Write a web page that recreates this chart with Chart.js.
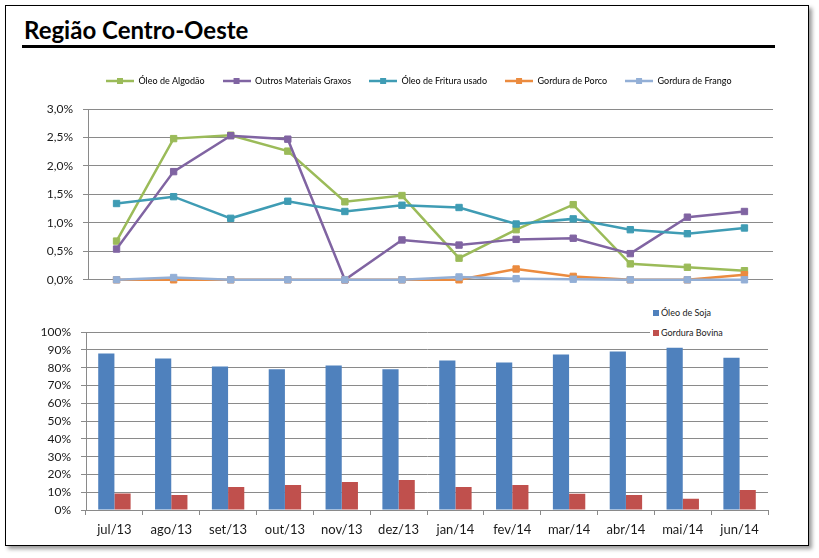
<!DOCTYPE html>
<html>
<head>
<meta charset="utf-8">
<script src="https://cdn.jsdelivr.net/npm/chart.js@4.4.0/dist/chart.umd.min.js"></script>
<style>
  body { margin: 0; background: #fff; font-family: Lato, sans-serif; }
  #frame { position: absolute; left: 5px; top: 5px; width: 802px; height: 539px; border: 1px solid #000; box-shadow: 3px 3px 4px #999; background: #fff; }
  #title { position: absolute; left: 24px; top: 15px; font: bold 24px Lato, sans-serif; color: #000; white-space: nowrap; }
  #rule { position: absolute; left: 22px; top: 45px; width: 753px; height: 3px; background: #000; }
  .box { position: absolute; }
  #barLegend { position: absolute; left: 650px; top: 303px; width: 120px; background: #fff; font: 9px Lato, sans-serif; color: #222; }
  #barLegend div { height: 20px; line-height: 20px; padding-left: 3px; }
  #barLegend span { display: inline-block; width: 6px; height: 6px; margin-right: 2px; vertical-align: 0; }
</style>
</head>
<body>
<div id="frame"></div>
<div id="title">Região Centro-Oeste</div>
<div id="rule"></div>

<div class="box" style="left:20px; top:58px;">
  <canvas id="lineChart" width="770" height="239"></canvas>
</div>
<div class="box" style="left:20px; top:315px;">
  <canvas id="barChart" width="770" height="230"></canvas>
</div>
<div id="barLegend">
  <div><span style="background:#4F81BD"></span>Óleo de Soja</div>
  <div><span style="background:#C0504D"></span>Gordura Bovina</div>
</div>

<script>
// meses
const months = ['jul/13', 'ago/13', 'set/13', 'out/13', 'nov/13', 'dez/13',
                'jan/14', 'fev/14', 'mar/14', 'abr/14', 'mai/14', 'jun/14'];

// participação (%) - gráfico de linhas
const algodao = [0.68, 2.48, 2.54, 2.26, 1.37, 1.48, 0.38, 0.88, 1.32, 0.28, 0.22, 0.16];
const outros  = [0.54, 1.90, 2.53, 2.47, 0.00, 0.70, 0.61, 0.71, 0.73, 0.46, 1.10, 1.20];
const fritura = [1.34, 1.46, 1.08, 1.38, 1.20, 1.31, 1.27, 0.98, 1.07, 0.88, 0.81, 0.91];
const porco   = [0, 0, 0, 0, 0, 0, 0, 0.19, 0.06, 0, 0, 0.09];
const frango  = [0, 0.04, 0, 0, 0, 0, 0.05, 0.02, 0.01, 0, 0, 0];
const lineTicks = ['0,0%', '0,5%', '1,0%', '1,5%', '2,0%', '2,5%', '3,0%'];

// participação (%) - gráfico de barras
const soja   = [88.0, 85.2, 80.7, 79.1, 81.3, 79.1, 84.1, 83.0, 87.4, 89.1, 91.3, 85.7];
const bovina = [9.3, 8.5, 13.0, 14.1, 15.7, 16.9, 13.0, 14.1, 9.1, 8.5, 6.3, 11.3];
const barTicks = ['0%', '10%', '20%', '30%', '40%', '50%', '60%', '70%', '80%', '90%', '100%'];

const gridGray = '#8a8a8a';
const tickColor = '#1a1a1a';

function legendIcon(color) {
    const c = document.createElement('canvas');
    c.width = 28;
    c.height = 8;
    const g = c.getContext('2d');
    g.strokeStyle = color;
    g.lineWidth = 2.5;
    g.beginPath();
    g.moveTo(0, 4);
    g.lineTo(28, 4);
    g.stroke();
    g.fillStyle = color;
    g.fillRect(11, 1, 6, 6);
    return c;
}

function lineSet(label, data, color, order) {
    return {
        label,
        data,
        borderColor: color,
        backgroundColor: color,
        borderWidth: 2.5,
        pointStyle: 'rect',
        pointRadius: 4.5,
        pointBorderWidth: 1,
        pointBackgroundColor: color,
        pointBorderColor: color,
        tension: 0,
        clip: false,
        order
    };
}

// espaço extra abaixo da legenda
const legendGap = {
    id: 'legendGap',
    beforeInit(chart) {
        const fit = chart.legend.fit;
        chart.legend.fit = function () {
            fit.bind(chart.legend)();
            this.height += 13.5;
        };
    }
};

new Chart(document.getElementById('lineChart').getContext('2d'), {
    type: 'line',
    data: {
        labels: months,
        datasets: [
            lineSet('Óleo de Algodão', algodao, '#9BBB59', 5),
            lineSet('Outros Materiais Graxos', outros, '#8064A2', 4),
            lineSet('Óleo de Fritura usado', fritura, '#3F9CB4', 3),
            lineSet('Gordura de Porco', porco, '#EB8B3F', 2),
            lineSet('Gordura de Frango', frango, '#93AFD6', 1)
        ]
    },
    options: {
        responsive: false,
        animation: false,
        layout: { padding: { top: 0.5, right: 17, bottom: 8, left: 0 } },
        plugins: {
            legend: {
                position: 'top',
                align: 'start',
                fullSize: false,
                labels: {
                    usePointStyle: true,
                    pointStyleWidth: 28,
                    padding: 18,
                    color: '#222',
                    font: { family: 'Lato', size: 9 },
                    generateLabels: chart => chart.data.datasets.map((ds, i) => ({
                        text: ds.label,
                        pointStyle: legendIcon(ds.borderColor),
                        fillStyle: ds.borderColor,
                        strokeStyle: ds.borderColor,
                        lineWidth: 0,
                        hidden: false,
                        datasetIndex: i
                    }))
                }
            },
            tooltip: { enabled: false }
        },
        scales: {
            x: { type: 'category', offset: true, display: false },
            y: {
                min: 0,
                max: 3,
                ticks: {
                    stepSize: 0.5,
                    padding: 10,
                    color: tickColor,
                    font: { family: 'Lato', size: 12 },
                    callback: (v, i) => lineTicks[i]
                },
                grid: { color: gridGray, tickLength: 5 },
                border: { color: gridGray },
                afterFit: s => { s.width = 68; }
            }
        }
    },
    plugins: [legendGap]
});

new Chart(document.getElementById('barChart').getContext('2d'), {
    type: 'bar',
    data: {
        labels: months,
        datasets: [
            { label: 'Óleo de Soja', data: soja, backgroundColor: '#4F81BD', categoryPercentage: 0.57, barPercentage: 1 },
            { label: 'Gordura Bovina', data: bovina, backgroundColor: '#C0504D', categoryPercentage: 0.57, barPercentage: 1 }
        ]
    },
    options: {
        responsive: false,
        animation: false,
        layout: { padding: { top: 15, right: 22, bottom: 0, left: 0 } },
        plugins: {
            legend: { display: false },
            tooltip: { enabled: false }
        },
        scales: {
            x: {
                offset: true,
                grid: { offset: true, drawOnChartArea: false, tickLength: 5, color: gridGray },
                border: { color: gridGray },
                ticks: {
                    color: tickColor,
                    padding: 7,
                    maxRotation: 0,
                    autoSkip: false,
                    font: { family: 'Lato', size: 13 }
                },
                afterFit: s => { s.height = 35; }
            },
            y: {
                min: 0,
                max: 100,
                ticks: {
                    stepSize: 10,
                    padding: 10,
                    color: tickColor,
                    font: { family: 'Lato', size: 12 },
                    callback: (v, i) => barTicks[i]
                },
                grid: { color: gridGray, tickLength: 5 },
                border: { color: gridGray },
                afterFit: s => { s.width = 66; }
            }
        }
    }
});
</script>
</body>
</html>
